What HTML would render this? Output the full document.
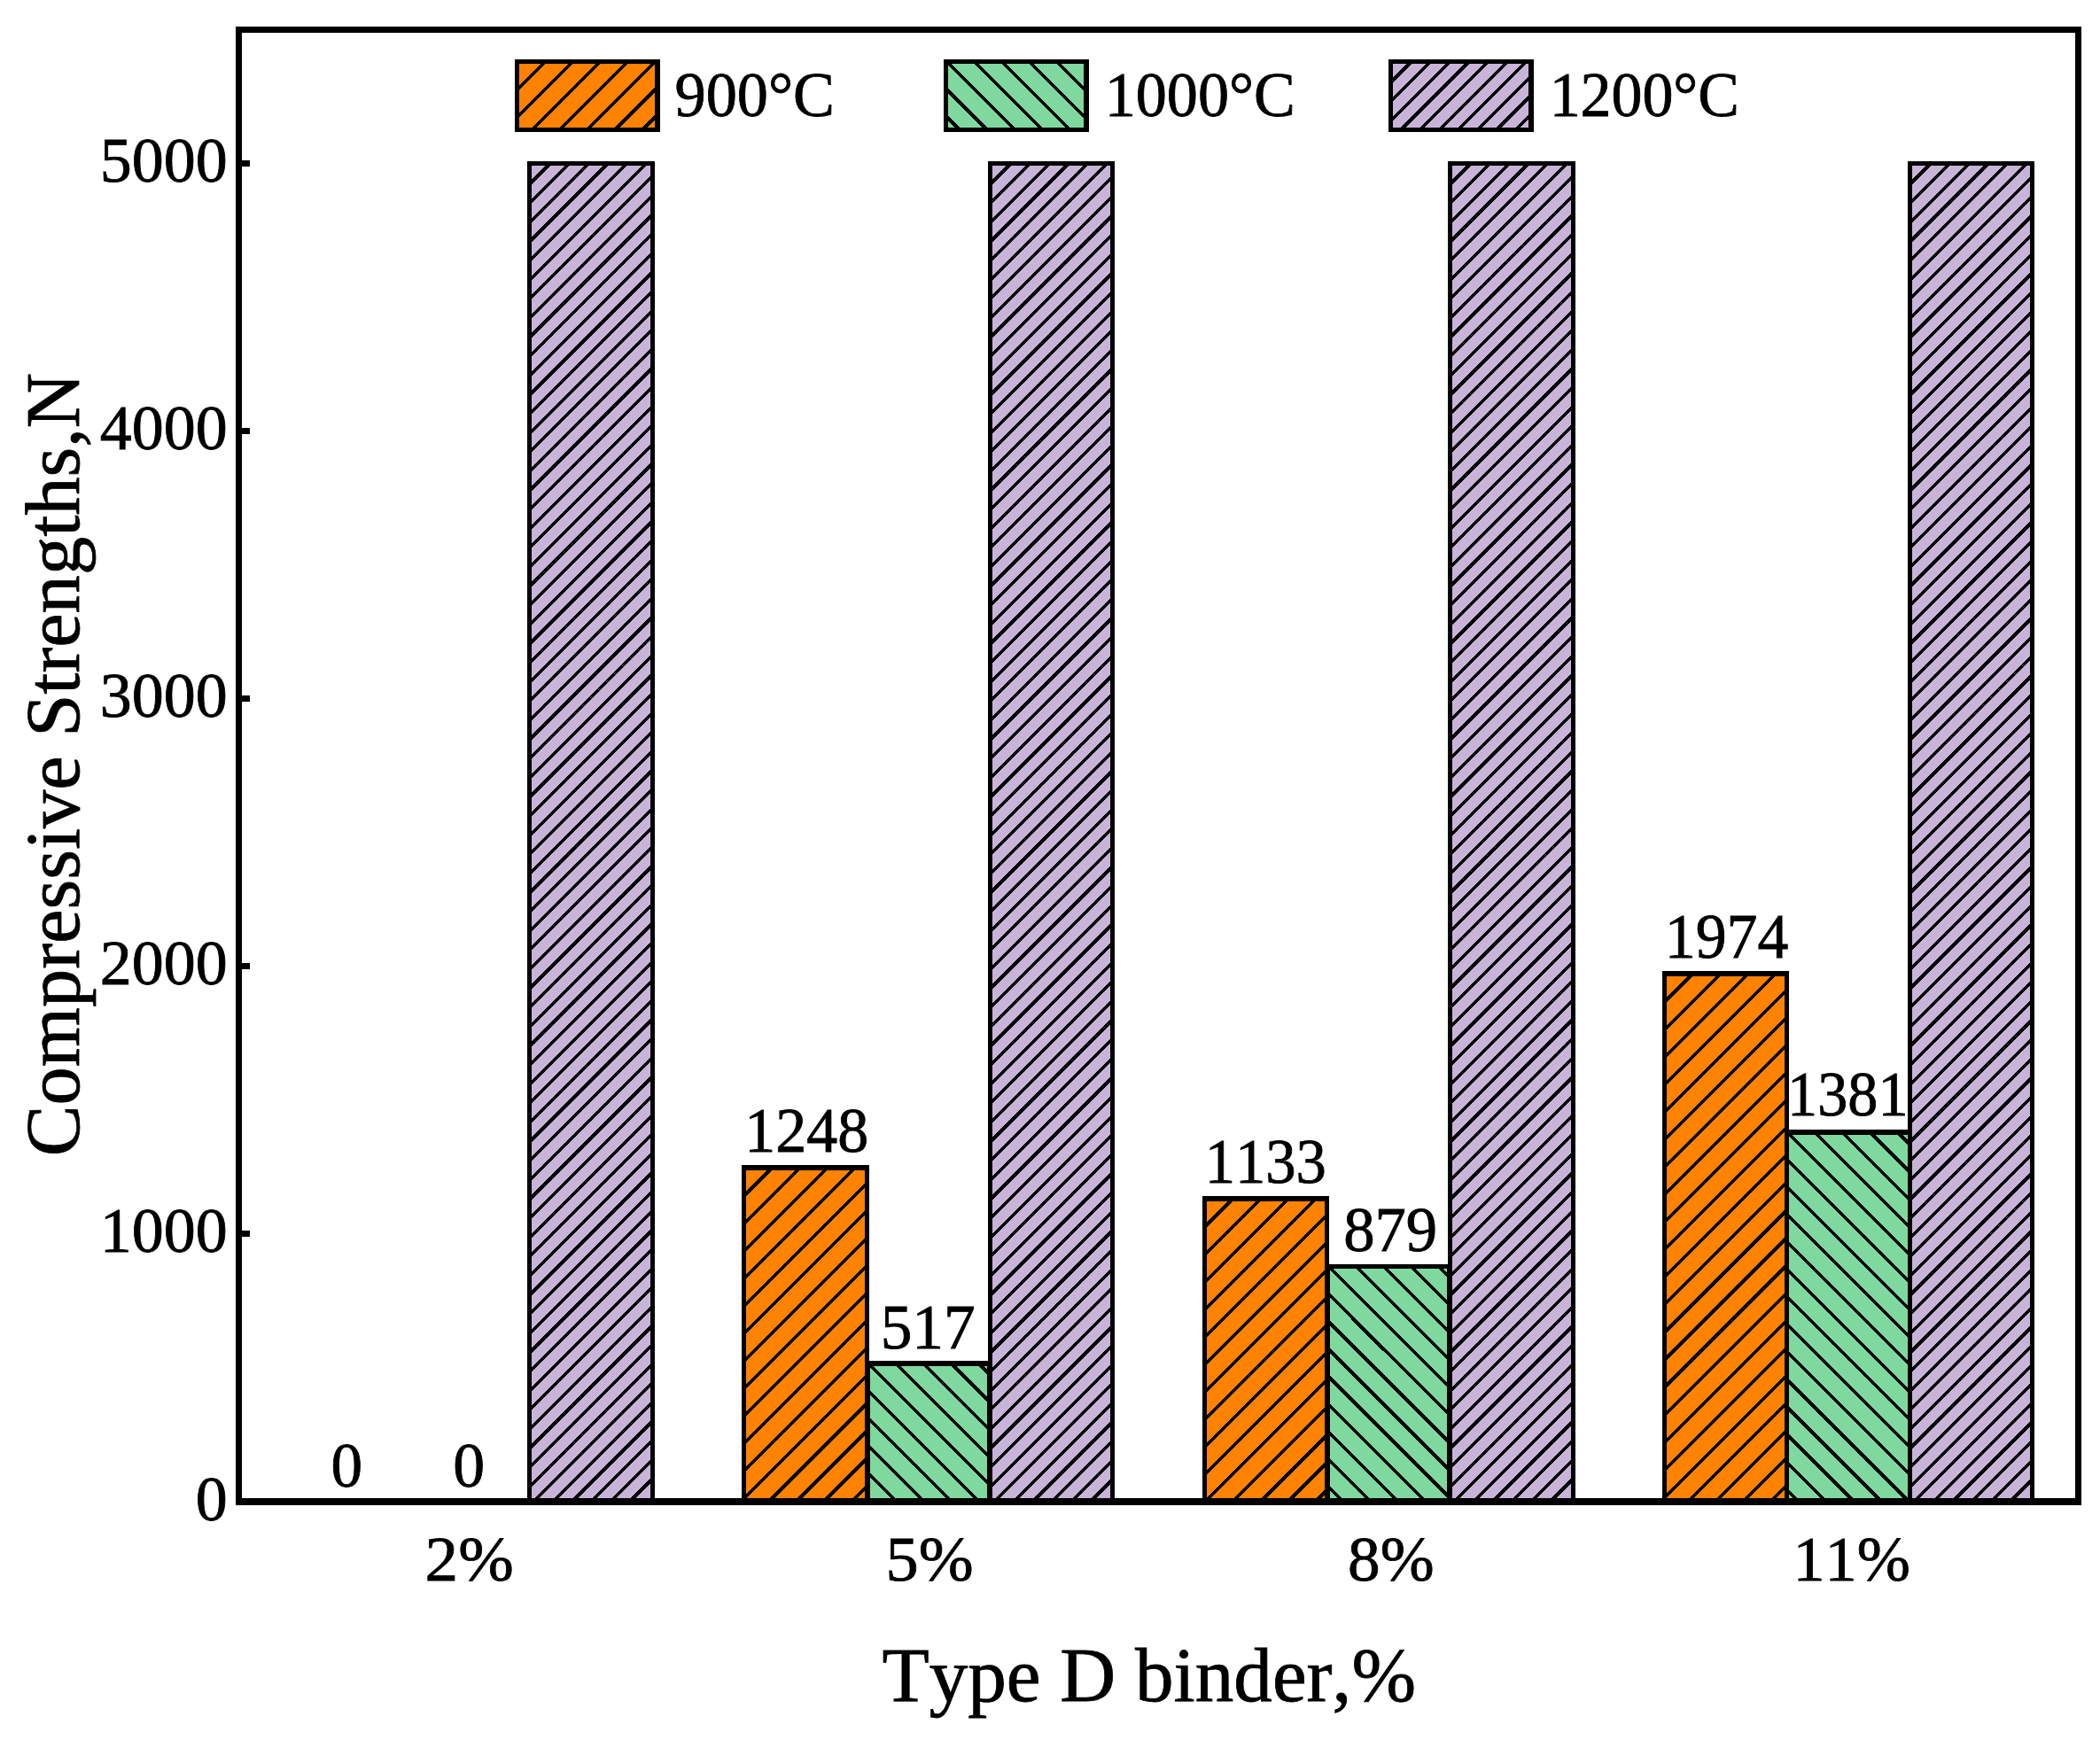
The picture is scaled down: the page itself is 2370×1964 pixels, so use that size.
<!DOCTYPE html>
<html lang="en"><head><meta charset="utf-8"><title>Compressive strengths vs Type D binder</title>
<style>html,body{margin:0;padding:0;background:#fff}body{width:2370px;height:1964px;overflow:hidden}svg{display:block}text{font-kerning:none;font-family:"Liberation Serif","Times New Roman",serif;fill:#000;stroke:#000;stroke-width:0.8px}.t{font-size:70.8px}.T{font-size:87.5px}.h{stroke:#000;stroke-width:3.7;fill:none;shape-rendering:crispEdges}.k{fill:#000;shape-rendering:crispEdges}</style>
</head><body>
<svg width="2370" height="1964" viewBox="0 0 2370 1964">
<rect width="2370" height="1964" fill="#fff"/>
<clipPath id="c1"><rect x="597.5" y="184.5" width="139" height="1510.5"/></clipPath>
<rect x="597.5" y="184.5" width="139" height="1510.5" fill="#C9B4D9"/>
<path class="h" clip-path="url(#c1)" d="M603.45 180.50L-915.05 1699.00M625.07 180.50L-893.43 1699.00M646.69 180.50L-871.81 1699.00M668.31 180.50L-850.19 1699.00M689.93 180.50L-828.57 1699.00M711.55 180.50L-806.95 1699.00M733.17 180.50L-785.33 1699.00M754.79 180.50L-763.71 1699.00M776.41 180.50L-742.09 1699.00M798.03 180.50L-720.47 1699.00M819.65 180.50L-698.85 1699.00M841.27 180.50L-677.23 1699.00M862.89 180.50L-655.61 1699.00M884.51 180.50L-633.99 1699.00M906.13 180.50L-612.37 1699.00M927.75 180.50L-590.75 1699.00M949.37 180.50L-569.13 1699.00M970.99 180.50L-547.51 1699.00M992.61 180.50L-525.89 1699.00M1014.23 180.50L-504.27 1699.00M1035.85 180.50L-482.65 1699.00M1057.47 180.50L-461.03 1699.00M1079.09 180.50L-439.41 1699.00M1100.71 180.50L-417.79 1699.00M1122.33 180.50L-396.17 1699.00M1143.95 180.50L-374.55 1699.00M1165.57 180.50L-352.93 1699.00M1187.19 180.50L-331.31 1699.00M1208.81 180.50L-309.69 1699.00M1230.43 180.50L-288.07 1699.00M1252.05 180.50L-266.45 1699.00M1273.67 180.50L-244.83 1699.00M1295.29 180.50L-223.21 1699.00M1316.91 180.50L-201.59 1699.00M1338.53 180.50L-179.97 1699.00M1360.15 180.50L-158.35 1699.00M1381.77 180.50L-136.73 1699.00M1403.39 180.50L-115.11 1699.00M1425.01 180.50L-93.49 1699.00M1446.63 180.50L-71.87 1699.00M1468.25 180.50L-50.25 1699.00M1489.87 180.50L-28.63 1699.00M1511.49 180.50L-7.01 1699.00M1533.11 180.50L14.61 1699.00M1554.73 180.50L36.23 1699.00M1576.35 180.50L57.85 1699.00M1597.97 180.50L79.47 1699.00M1619.59 180.50L101.09 1699.00M1641.21 180.50L122.71 1699.00M1662.83 180.50L144.33 1699.00M1684.45 180.50L165.95 1699.00M1706.07 180.50L187.57 1699.00M1727.69 180.50L209.19 1699.00M1749.31 180.50L230.81 1699.00M1770.93 180.50L252.43 1699.00M1792.55 180.50L274.05 1699.00M1814.17 180.50L295.67 1699.00M1835.79 180.50L317.29 1699.00M1857.41 180.50L338.91 1699.00M1879.03 180.50L360.53 1699.00M1900.65 180.50L382.15 1699.00M1922.27 180.50L403.77 1699.00M1943.89 180.50L425.39 1699.00M1965.51 180.50L447.01 1699.00M1987.13 180.50L468.63 1699.00M2008.75 180.50L490.25 1699.00M2030.37 180.50L511.87 1699.00M2051.99 180.50L533.49 1699.00M2073.61 180.50L555.11 1699.00M2095.23 180.50L576.73 1699.00M2116.85 180.50L598.35 1699.00M2138.47 180.50L619.97 1699.00M2160.09 180.50L641.59 1699.00M2181.71 180.50L663.21 1699.00M2203.33 180.50L684.83 1699.00M2224.95 180.50L706.45 1699.00M2246.57 180.50L728.07 1699.00"/>
<path class="k" d="M595 182h5v1513h-5zM734 182h5v1513h-5zM595 182h144v5h-144z"/>
<clipPath id="c2"><rect x="839.5" y="1318" width="139" height="377"/></clipPath>
<rect x="839.5" y="1318" width="139" height="377" fill="#FF8200"/>
<path class="h" clip-path="url(#c2)" d="M844.50 1314.00L459.50 1699.00M875.57 1314.00L490.57 1699.00M906.64 1314.00L521.64 1699.00M937.71 1314.00L552.71 1699.00M968.78 1314.00L583.78 1699.00M999.85 1314.00L614.85 1699.00M1030.92 1314.00L645.92 1699.00M1061.99 1314.00L676.99 1699.00M1093.06 1314.00L708.06 1699.00M1124.13 1314.00L739.13 1699.00M1155.20 1314.00L770.20 1699.00M1186.27 1314.00L801.27 1699.00M1217.34 1314.00L832.34 1699.00M1248.41 1314.00L863.41 1699.00M1279.48 1314.00L894.48 1699.00M1310.55 1314.00L925.55 1699.00M1341.62 1314.00L956.62 1699.00"/>
<path class="k" d="M837 1315h5v380h-5zM976 1315h5v380h-5zM837 1315h144v6h-144z"/>
<clipPath id="c3"><rect x="979.5" y="1539" width="137" height="156"/></clipPath>
<rect x="979.5" y="1539" width="137" height="156" fill="#7FD99E"/>
<path class="h" clip-path="url(#c3)" d="M789.78 1535.00L953.78 1699.00M820.85 1535.00L984.85 1699.00M851.92 1535.00L1015.92 1699.00M882.99 1535.00L1046.99 1699.00M914.06 1535.00L1078.06 1699.00M945.13 1535.00L1109.13 1699.00M976.20 1535.00L1140.20 1699.00M1007.27 1535.00L1171.27 1699.00M1038.34 1535.00L1202.34 1699.00M1069.41 1535.00L1233.41 1699.00M1100.48 1535.00L1264.48 1699.00"/>
<path class="k" d="M977 1536h5v159h-5zM1114 1536h5v159h-5zM977 1536h142v6h-142z"/>
<clipPath id="c4"><rect x="1117.5" y="184.5" width="138" height="1510.5"/></clipPath>
<rect x="1117.5" y="184.5" width="138" height="1510.5" fill="#C9B4D9"/>
<path class="h" clip-path="url(#c4)" d="M1123.45 180.50L-395.05 1699.00M1145.07 180.50L-373.43 1699.00M1166.69 180.50L-351.81 1699.00M1188.31 180.50L-330.19 1699.00M1209.93 180.50L-308.57 1699.00M1231.55 180.50L-286.95 1699.00M1253.17 180.50L-265.33 1699.00M1274.79 180.50L-243.71 1699.00M1296.41 180.50L-222.09 1699.00M1318.03 180.50L-200.47 1699.00M1339.65 180.50L-178.85 1699.00M1361.27 180.50L-157.23 1699.00M1382.89 180.50L-135.61 1699.00M1404.51 180.50L-113.99 1699.00M1426.13 180.50L-92.37 1699.00M1447.75 180.50L-70.75 1699.00M1469.37 180.50L-49.13 1699.00M1490.99 180.50L-27.51 1699.00M1512.61 180.50L-5.89 1699.00M1534.23 180.50L15.73 1699.00M1555.85 180.50L37.35 1699.00M1577.47 180.50L58.97 1699.00M1599.09 180.50L80.59 1699.00M1620.71 180.50L102.21 1699.00M1642.33 180.50L123.83 1699.00M1663.95 180.50L145.45 1699.00M1685.57 180.50L167.07 1699.00M1707.19 180.50L188.69 1699.00M1728.81 180.50L210.31 1699.00M1750.43 180.50L231.93 1699.00M1772.05 180.50L253.55 1699.00M1793.67 180.50L275.17 1699.00M1815.29 180.50L296.79 1699.00M1836.91 180.50L318.41 1699.00M1858.53 180.50L340.03 1699.00M1880.15 180.50L361.65 1699.00M1901.77 180.50L383.27 1699.00M1923.39 180.50L404.89 1699.00M1945.01 180.50L426.51 1699.00M1966.63 180.50L448.13 1699.00M1988.25 180.50L469.75 1699.00M2009.87 180.50L491.37 1699.00M2031.49 180.50L512.99 1699.00M2053.11 180.50L534.61 1699.00M2074.73 180.50L556.23 1699.00M2096.35 180.50L577.85 1699.00M2117.97 180.50L599.47 1699.00M2139.59 180.50L621.09 1699.00M2161.21 180.50L642.71 1699.00M2182.83 180.50L664.33 1699.00M2204.45 180.50L685.95 1699.00M2226.07 180.50L707.57 1699.00M2247.69 180.50L729.19 1699.00M2269.31 180.50L750.81 1699.00M2290.93 180.50L772.43 1699.00M2312.55 180.50L794.05 1699.00M2334.17 180.50L815.67 1699.00M2355.79 180.50L837.29 1699.00M2377.41 180.50L858.91 1699.00M2399.03 180.50L880.53 1699.00M2420.65 180.50L902.15 1699.00M2442.27 180.50L923.77 1699.00M2463.89 180.50L945.39 1699.00M2485.51 180.50L967.01 1699.00M2507.13 180.50L988.63 1699.00M2528.75 180.50L1010.25 1699.00M2550.37 180.50L1031.87 1699.00M2571.99 180.50L1053.49 1699.00M2593.61 180.50L1075.11 1699.00M2615.23 180.50L1096.73 1699.00M2636.85 180.50L1118.35 1699.00M2658.47 180.50L1139.97 1699.00M2680.09 180.50L1161.59 1699.00M2701.71 180.50L1183.21 1699.00M2723.33 180.50L1204.83 1699.00M2744.95 180.50L1226.45 1699.00M2766.57 180.50L1248.07 1699.00"/>
<path class="k" d="M1115 182h5v1513h-5zM1253 182h5v1513h-5zM1115 182h143v5h-143z"/>
<clipPath id="c5"><rect x="1359.5" y="1353" width="138" height="342"/></clipPath>
<rect x="1359.5" y="1353" width="138" height="342" fill="#FF8200"/>
<path class="h" clip-path="url(#c5)" d="M1364.50 1349.00L1014.50 1699.00M1395.57 1349.00L1045.57 1699.00M1426.64 1349.00L1076.64 1699.00M1457.71 1349.00L1107.71 1699.00M1488.78 1349.00L1138.78 1699.00M1519.85 1349.00L1169.85 1699.00M1550.92 1349.00L1200.92 1699.00M1581.99 1349.00L1231.99 1699.00M1613.06 1349.00L1263.06 1699.00M1644.13 1349.00L1294.13 1699.00M1675.20 1349.00L1325.20 1699.00M1706.27 1349.00L1356.27 1699.00M1737.34 1349.00L1387.34 1699.00M1768.41 1349.00L1418.41 1699.00M1799.48 1349.00L1449.48 1699.00M1830.55 1349.00L1480.55 1699.00"/>
<path class="k" d="M1357 1350h5v345h-5zM1495 1350h5v345h-5zM1357 1350h143v6h-143z"/>
<clipPath id="c6"><rect x="1498.5" y="1429.5" width="137" height="265.5"/></clipPath>
<rect x="1498.5" y="1429.5" width="137" height="265.5" fill="#7FD99E"/>
<path class="h" clip-path="url(#c6)" d="M1215.57 1425.50L1489.07 1699.00M1246.64 1425.50L1520.14 1699.00M1277.71 1425.50L1551.21 1699.00M1308.78 1425.50L1582.28 1699.00M1339.85 1425.50L1613.35 1699.00M1370.92 1425.50L1644.42 1699.00M1401.99 1425.50L1675.49 1699.00M1433.06 1425.50L1706.56 1699.00M1464.13 1425.50L1737.63 1699.00M1495.20 1425.50L1768.70 1699.00M1526.27 1425.50L1799.77 1699.00M1557.34 1425.50L1830.84 1699.00M1588.41 1425.50L1861.91 1699.00M1619.48 1425.50L1892.98 1699.00"/>
<path class="k" d="M1496 1427h5v268h-5zM1633 1427h5v268h-5zM1496 1427h142v5h-142z"/>
<clipPath id="c7"><rect x="1636.5" y="184.5" width="139" height="1510.5"/></clipPath>
<rect x="1636.5" y="184.5" width="139" height="1510.5" fill="#C9B4D9"/>
<path class="h" clip-path="url(#c7)" d="M1642.45 180.50L123.95 1699.00M1664.07 180.50L145.57 1699.00M1685.69 180.50L167.19 1699.00M1707.31 180.50L188.81 1699.00M1728.93 180.50L210.43 1699.00M1750.55 180.50L232.05 1699.00M1772.17 180.50L253.67 1699.00M1793.79 180.50L275.29 1699.00M1815.41 180.50L296.91 1699.00M1837.03 180.50L318.53 1699.00M1858.65 180.50L340.15 1699.00M1880.27 180.50L361.77 1699.00M1901.89 180.50L383.39 1699.00M1923.51 180.50L405.01 1699.00M1945.13 180.50L426.63 1699.00M1966.75 180.50L448.25 1699.00M1988.37 180.50L469.87 1699.00M2009.99 180.50L491.49 1699.00M2031.61 180.50L513.11 1699.00M2053.23 180.50L534.73 1699.00M2074.85 180.50L556.35 1699.00M2096.47 180.50L577.97 1699.00M2118.09 180.50L599.59 1699.00M2139.71 180.50L621.21 1699.00M2161.33 180.50L642.83 1699.00M2182.95 180.50L664.45 1699.00M2204.57 180.50L686.07 1699.00M2226.19 180.50L707.69 1699.00M2247.81 180.50L729.31 1699.00M2269.43 180.50L750.93 1699.00M2291.05 180.50L772.55 1699.00M2312.67 180.50L794.17 1699.00M2334.29 180.50L815.79 1699.00M2355.91 180.50L837.41 1699.00M2377.53 180.50L859.03 1699.00M2399.15 180.50L880.65 1699.00M2420.77 180.50L902.27 1699.00M2442.39 180.50L923.89 1699.00M2464.01 180.50L945.51 1699.00M2485.63 180.50L967.13 1699.00M2507.25 180.50L988.75 1699.00M2528.87 180.50L1010.37 1699.00M2550.49 180.50L1031.99 1699.00M2572.11 180.50L1053.61 1699.00M2593.73 180.50L1075.23 1699.00M2615.35 180.50L1096.85 1699.00M2636.97 180.50L1118.47 1699.00M2658.59 180.50L1140.09 1699.00M2680.21 180.50L1161.71 1699.00M2701.83 180.50L1183.33 1699.00M2723.45 180.50L1204.95 1699.00M2745.07 180.50L1226.57 1699.00M2766.69 180.50L1248.19 1699.00M2788.31 180.50L1269.81 1699.00M2809.93 180.50L1291.43 1699.00M2831.55 180.50L1313.05 1699.00M2853.17 180.50L1334.67 1699.00M2874.79 180.50L1356.29 1699.00M2896.41 180.50L1377.91 1699.00M2918.03 180.50L1399.53 1699.00M2939.65 180.50L1421.15 1699.00M2961.27 180.50L1442.77 1699.00M2982.89 180.50L1464.39 1699.00M3004.51 180.50L1486.01 1699.00M3026.13 180.50L1507.63 1699.00M3047.75 180.50L1529.25 1699.00M3069.37 180.50L1550.87 1699.00M3090.99 180.50L1572.49 1699.00M3112.61 180.50L1594.11 1699.00M3134.23 180.50L1615.73 1699.00M3155.85 180.50L1637.35 1699.00M3177.47 180.50L1658.97 1699.00M3199.09 180.50L1680.59 1699.00M3220.71 180.50L1702.21 1699.00M3242.33 180.50L1723.83 1699.00M3263.95 180.50L1745.45 1699.00M3285.57 180.50L1767.07 1699.00"/>
<path class="k" d="M1634 182h5v1513h-5zM1773 182h5v1513h-5zM1634 182h144v5h-144z"/>
<clipPath id="c8"><rect x="1878.5" y="1099" width="138" height="596"/></clipPath>
<rect x="1878.5" y="1099" width="138" height="596" fill="#FF8200"/>
<path class="h" clip-path="url(#c8)" d="M1883.50 1095.00L1279.50 1699.00M1914.57 1095.00L1310.57 1699.00M1945.64 1095.00L1341.64 1699.00M1976.71 1095.00L1372.71 1699.00M2007.78 1095.00L1403.78 1699.00M2038.85 1095.00L1434.85 1699.00M2069.92 1095.00L1465.92 1699.00M2100.99 1095.00L1496.99 1699.00M2132.06 1095.00L1528.06 1699.00M2163.13 1095.00L1559.13 1699.00M2194.20 1095.00L1590.20 1699.00M2225.27 1095.00L1621.27 1699.00M2256.34 1095.00L1652.34 1699.00M2287.41 1095.00L1683.41 1699.00M2318.48 1095.00L1714.48 1699.00M2349.55 1095.00L1745.55 1699.00M2380.62 1095.00L1776.62 1699.00M2411.69 1095.00L1807.69 1699.00M2442.76 1095.00L1838.76 1699.00M2473.83 1095.00L1869.83 1699.00M2504.90 1095.00L1900.90 1699.00M2535.97 1095.00L1931.97 1699.00M2567.04 1095.00L1963.04 1699.00M2598.11 1095.00L1994.11 1699.00"/>
<path class="k" d="M1876 1096h5v599h-5zM2014 1096h5v599h-5zM1876 1096h143v6h-143z"/>
<clipPath id="c9"><rect x="2016.5" y="1278" width="139" height="417"/></clipPath>
<rect x="2016.5" y="1278" width="139" height="417" fill="#7FD99E"/>
<path class="h" clip-path="url(#c9)" d="M1578.22 1274.00L2003.22 1699.00M1609.29 1274.00L2034.29 1699.00M1640.36 1274.00L2065.36 1699.00M1671.43 1274.00L2096.43 1699.00M1702.50 1274.00L2127.50 1699.00M1733.57 1274.00L2158.57 1699.00M1764.64 1274.00L2189.64 1699.00M1795.71 1274.00L2220.71 1699.00M1826.78 1274.00L2251.78 1699.00M1857.85 1274.00L2282.85 1699.00M1888.92 1274.00L2313.92 1699.00M1919.99 1274.00L2344.99 1699.00M1951.06 1274.00L2376.06 1699.00M1982.13 1274.00L2407.13 1699.00M2013.20 1274.00L2438.20 1699.00M2044.27 1274.00L2469.27 1699.00M2075.34 1274.00L2500.34 1699.00M2106.41 1274.00L2531.41 1699.00M2137.48 1274.00L2562.48 1699.00"/>
<path class="k" d="M2014 1275h5v420h-5zM2153 1275h5v420h-5zM2014 1275h144v6h-144z"/>
<clipPath id="c10"><rect x="2155.5" y="184.5" width="138" height="1510.5"/></clipPath>
<rect x="2155.5" y="184.5" width="138" height="1510.5" fill="#C9B4D9"/>
<path class="h" clip-path="url(#c10)" d="M2161.45 180.50L642.95 1699.00M2183.07 180.50L664.57 1699.00M2204.69 180.50L686.19 1699.00M2226.31 180.50L707.81 1699.00M2247.93 180.50L729.43 1699.00M2269.55 180.50L751.05 1699.00M2291.17 180.50L772.67 1699.00M2312.79 180.50L794.29 1699.00M2334.41 180.50L815.91 1699.00M2356.03 180.50L837.53 1699.00M2377.65 180.50L859.15 1699.00M2399.27 180.50L880.77 1699.00M2420.89 180.50L902.39 1699.00M2442.51 180.50L924.01 1699.00M2464.13 180.50L945.63 1699.00M2485.75 180.50L967.25 1699.00M2507.37 180.50L988.87 1699.00M2528.99 180.50L1010.49 1699.00M2550.61 180.50L1032.11 1699.00M2572.23 180.50L1053.73 1699.00M2593.85 180.50L1075.35 1699.00M2615.47 180.50L1096.97 1699.00M2637.09 180.50L1118.59 1699.00M2658.71 180.50L1140.21 1699.00M2680.33 180.50L1161.83 1699.00M2701.95 180.50L1183.45 1699.00M2723.57 180.50L1205.07 1699.00M2745.19 180.50L1226.69 1699.00M2766.81 180.50L1248.31 1699.00M2788.43 180.50L1269.93 1699.00M2810.05 180.50L1291.55 1699.00M2831.67 180.50L1313.17 1699.00M2853.29 180.50L1334.79 1699.00M2874.91 180.50L1356.41 1699.00M2896.53 180.50L1378.03 1699.00M2918.15 180.50L1399.65 1699.00M2939.77 180.50L1421.27 1699.00M2961.39 180.50L1442.89 1699.00M2983.01 180.50L1464.51 1699.00M3004.63 180.50L1486.13 1699.00M3026.25 180.50L1507.75 1699.00M3047.87 180.50L1529.37 1699.00M3069.49 180.50L1550.99 1699.00M3091.11 180.50L1572.61 1699.00M3112.73 180.50L1594.23 1699.00M3134.35 180.50L1615.85 1699.00M3155.97 180.50L1637.47 1699.00M3177.59 180.50L1659.09 1699.00M3199.21 180.50L1680.71 1699.00M3220.83 180.50L1702.33 1699.00M3242.45 180.50L1723.95 1699.00M3264.07 180.50L1745.57 1699.00M3285.69 180.50L1767.19 1699.00M3307.31 180.50L1788.81 1699.00M3328.93 180.50L1810.43 1699.00M3350.55 180.50L1832.05 1699.00M3372.17 180.50L1853.67 1699.00M3393.79 180.50L1875.29 1699.00M3415.41 180.50L1896.91 1699.00M3437.03 180.50L1918.53 1699.00M3458.65 180.50L1940.15 1699.00M3480.27 180.50L1961.77 1699.00M3501.89 180.50L1983.39 1699.00M3523.51 180.50L2005.01 1699.00M3545.13 180.50L2026.63 1699.00M3566.75 180.50L2048.25 1699.00M3588.37 180.50L2069.87 1699.00M3609.99 180.50L2091.49 1699.00M3631.61 180.50L2113.11 1699.00M3653.23 180.50L2134.73 1699.00M3674.85 180.50L2156.35 1699.00M3696.47 180.50L2177.97 1699.00M3718.09 180.50L2199.59 1699.00M3739.71 180.50L2221.21 1699.00M3761.33 180.50L2242.83 1699.00M3782.95 180.50L2264.45 1699.00M3804.57 180.50L2286.07 1699.00"/>
<path class="k" d="M2153 182h5v1513h-5zM2291 182h5v1513h-5zM2153 182h143v5h-143z"/>
<clipPath id="c11"><rect x="583.5" y="69.5" width="158" height="77"/></clipPath>
<rect x="583.5" y="69.5" width="158" height="77" fill="#FF8200"/>
<path class="h" clip-path="url(#c11)" d="M588.50 65.50L503.50 150.50M619.57 65.50L534.57 150.50M650.64 65.50L565.64 150.50M681.71 65.50L596.71 150.50M712.78 65.50L627.78 150.50M743.85 65.50L658.85 150.50M774.92 65.50L689.92 150.50M805.99 65.50L720.99 150.50"/>
<path class="k" d="M581 67h5v82h-5zM739 67h6v82h-6zM581 67h163v5h-163zM581 144h164v5h-164z"/>
<clipPath id="c12"><rect x="1067.5" y="69.5" width="158" height="77"/></clipPath>
<rect x="1067.5" y="69.5" width="158" height="77" fill="#7FD99E"/>
<path class="h" clip-path="url(#c12)" d="M970.99 65.50L1055.99 150.50M1002.06 65.50L1087.06 150.50M1033.13 65.50L1118.13 150.50M1064.20 65.50L1149.20 150.50M1095.27 65.50L1180.27 150.50M1126.34 65.50L1211.34 150.50M1157.41 65.50L1242.41 150.50M1188.48 65.50L1273.48 150.50M1219.55 65.50L1304.55 150.50"/>
<path class="k" d="M1065 67h5v82h-5zM1223 67h6v82h-6zM1065 67h163v5h-163zM1065 144h164v5h-164z"/>
<clipPath id="c13"><rect x="1569.5" y="69.5" width="158" height="77"/></clipPath>
<rect x="1569.5" y="69.5" width="158" height="77" fill="#C9B4D9"/>
<path class="h" clip-path="url(#c13)" d="M1575.45 65.50L1490.45 150.50M1597.07 65.50L1512.07 150.50M1618.69 65.50L1533.69 150.50M1640.31 65.50L1555.31 150.50M1661.93 65.50L1576.93 150.50M1683.55 65.50L1598.55 150.50M1705.17 65.50L1620.17 150.50M1726.79 65.50L1641.79 150.50M1748.41 65.50L1663.41 150.50M1770.03 65.50L1685.03 150.50M1791.65 65.50L1706.65 150.50M1813.27 65.50L1728.27 150.50"/>
<path class="k" d="M1567 67h5v82h-5zM1725 67h6v82h-6zM1567 67h163v5h-163zM1567 144h164v5h-164z"/>
<text class="t" text-anchor="start" transform="translate(761.53,130.70) scale(0.9929,1.0200)">900°C</text>
<text class="t" text-anchor="start" transform="translate(1246.73,130.70) scale(0.9908,1.0200)">1000°C</text>
<text class="t" text-anchor="start" transform="translate(1748.66,130.70) scale(0.9864,1.0200)">1200°C</text>
<path class="k" d="M266 30h7v1669h-7zM2342 30h7v1669h-7zM266 30h2083v7h-2083zM266 1691h2083v8h-2083z"/>
<path class="k" d="M272 181h10v7h-10zM272 483h10v7h-10zM272 785h10v7h-10zM272 1087h10v7h-10zM272 1389h10v7h-10z"/>
<text class="t" text-anchor="end" transform="translate(256.80,205.00) scale(1.0170,1.0200)">5000</text>
<text class="t" text-anchor="end" transform="translate(256.80,507.10) scale(1.0170,1.0200)">4000</text>
<text class="t" text-anchor="end" transform="translate(256.80,809.20) scale(1.0170,1.0200)">3000</text>
<text class="t" text-anchor="end" transform="translate(256.80,1111.30) scale(1.0170,1.0200)">2000</text>
<text class="t" text-anchor="end" transform="translate(256.80,1413.40) scale(1.0170,1.0200)">1000</text>
<text class="t" text-anchor="end" transform="translate(256.80,1715.50) scale(1.0170,1.0200)">0</text>
<text class="t" text-anchor="start" transform="translate(479.60,1783.80) scale(1.0603,1.0200)">2%</text>
<text class="t" text-anchor="start" transform="translate(999.58,1783.80) scale(1.0496,1.0200)">5%</text>
<text class="t" text-anchor="start" transform="translate(1521.11,1783.80) scale(1.0329,1.0200)">8%</text>
<text class="t" text-anchor="start" transform="translate(2023.45,1783.80) scale(1.0204,1.0200)">11%</text>
<text class="t" text-anchor="start" transform="translate(373.39,1677.90) scale(1.0064,1.0200)">0</text>
<text class="t" text-anchor="start" transform="translate(511.37,1677.90) scale(1.0131,1.0200)">0</text>
<text class="t" text-anchor="start" transform="translate(840.25,1300.10) scale(0.9881,1.0200)">1248</text>
<text class="t" text-anchor="start" transform="translate(993.65,1521.60) scale(1.0085,1.0200)">517</text>
<text class="t" text-anchor="start" transform="translate(1359.67,1335.10) scale(0.9697,1.0200)">1133</text>
<text class="t" text-anchor="start" transform="translate(1516.21,1411.60) scale(0.9980,1.0200)">879</text>
<text class="t" text-anchor="start" transform="translate(1878.77,1080.70) scale(0.9853,1.0200)">1974</text>
<text class="t" text-anchor="start" transform="translate(2017.11,1259.40) scale(0.9632,1.0200)">1381</text>
<text class="T" text-anchor="middle" transform="translate(1296.70,1920.00) scale(0.9960,1.0000)">Type D binder,%</text>
<text class="T" text-anchor="middle" transform="translate(88.50,863.00) rotate(-90) scale(0.9890,1.0000)">Compressive Strengths,N</text>
</svg></body></html>
